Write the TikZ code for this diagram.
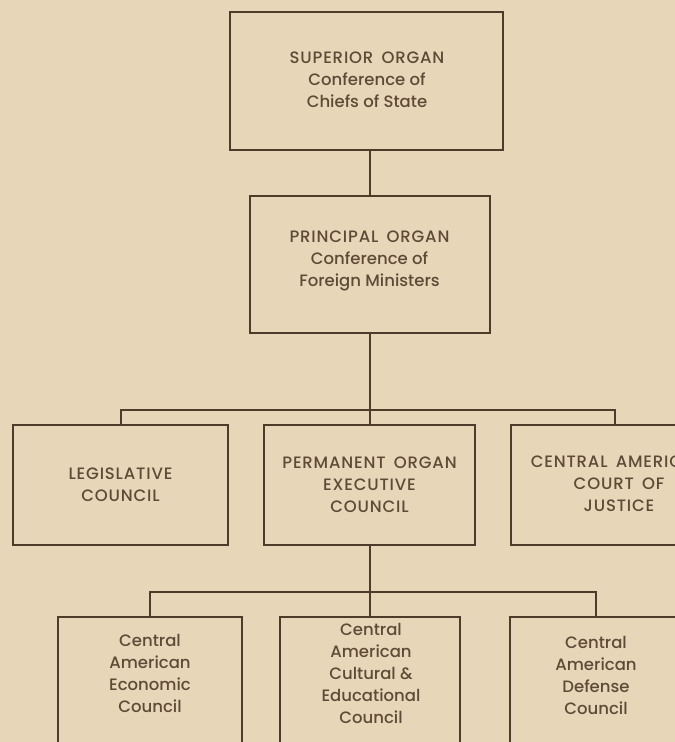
\documentclass[tikz,border=0pt]{standalone}
\usepackage{fontspec}
\setmainfont{Poppins}[UprightFont=* Medium]
\newfontfamily\capsfam{Poppins}[UprightFont=* Medium,LetterSpace=5,WordSpace=1.6]
\definecolor{paper}{HTML}{E8D6B9}
\definecolor{ink}{HTML}{4E3C2B}
\definecolor{txt}{HTML}{5E4A37}
\begin{document}
\begin{tikzpicture}[x=1pt,y=-1pt,
  orgbox/.style={draw=ink,line width=2pt,rectangle,inner sep=0pt},
  lbl/.style={text=txt,align=center,font=\fontsize{16.5}{22}\selectfont,inner sep=0pt},
  clbl/.style={lbl,font=\capsfam\fontsize{16.5}{22}\selectfont},
  conn/.style={draw=ink,line width=2pt}]
\fill[paper] (0,0) rectangle (675,742);
\useasboundingbox (0,0) rectangle (675,742);
\clip (0,0) rectangle (675,742);
% top box
\node[orgbox,minimum width=273,minimum height=138] (sup) at (366,81) {};
\node[lbl] (supT) at (367,80) {{\capsfam SUPERIOR ORGAN}\\Conference of\\Chiefs of State};
\node[orgbox,minimum width=240,minimum height=137] (pri) at (369.5,264.5) {};
\node[lbl] (priT) at (369.5,261) {{\capsfam PRINCIPAL ORGAN}\\Conference of\\Foreign Ministers};
% second row
\node[orgbox,minimum width=215,minimum height=120] (leg) at (120.5,485) {};
\node[clbl] (legT) at (leg.center) {LEGISLATIVE\\COUNCIL};
\node[orgbox,minimum width=211,minimum height=120] (perm) at (369.5,485) {};
\node[clbl] (permT) at (perm.center) {PERMANENT ORGAN\\EXECUTIVE\\COUNCIL};
\node[orgbox,minimum width=208,minimum height=120] (court) at (615,485) {};
\node[clbl] (courtT) at (619,484) {CENTRAL AMERICAN\\COURT OF\\JUSTICE};
% bottom row
\node[orgbox,anchor=north,minimum width=184,minimum height=180] (econ) at (150,616) {};
\node[lbl,anchor=north] (econT) at (150,634) {Central\\American\\Economic\\Council};
\node[orgbox,anchor=north,minimum width=180,minimum height=180] (cult) at (369.5,616) {};
\node[lbl,anchor=north] (cultT) at (371,623) {Central\\American\\Cultural \&\\Educational\\Council};
\node[orgbox,anchor=north,minimum width=172,minimum height=180] (def) at (596,616) {};
\node[lbl,anchor=north] (defT) at (596,636) {Central\\American\\Defense\\Council};
% connectors
\coordinate (barA) at (369.5,410);
\coordinate (barB) at (369.5,592);
\draw[conn] (sup.south -| pri.north) -- (pri.north);
\draw[conn] (pri.south) -- (barA);
\draw[conn] (leg.north) |- (barA) -| (court.north);
\draw[conn] (barA) -- (perm.north);
\draw[conn] (perm.south) -- (cult.north);
\draw[conn] (econ.north) |- (barB) -| (def.north);
\end{tikzpicture}
\end{document}
